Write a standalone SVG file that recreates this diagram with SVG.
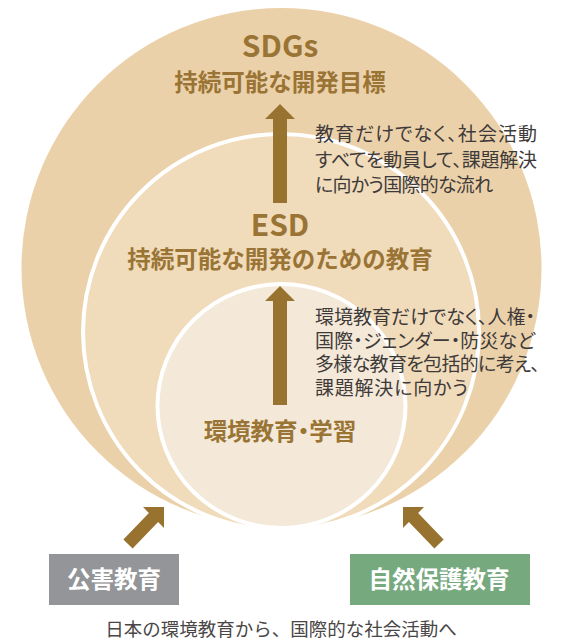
<svg xmlns="http://www.w3.org/2000/svg" width="572" height="642" viewBox="0 0 572 642">
<defs>
<style>
.title{font-family:"Noto Sans CJK JP","Noto Sans",sans-serif;font-weight:700;fill:#9a7434;text-anchor:middle}
.palt{font-feature-settings:"palt" 1}
.note{font-family:"Noto Sans CJK JP","Noto Sans",sans-serif;font-weight:400;fill:#3e3a39;font-size:19px;font-feature-settings:"palt" 1}
.box{font-family:"Noto Sans CJK JP","Noto Sans",sans-serif;font-weight:700;fill:#ffffff;font-size:23.5px;text-anchor:middle}
.cap{font-family:"Noto Sans CJK JP","Noto Sans",sans-serif;font-weight:400;fill:#4a4645;font-size:18.5px;text-anchor:middle}
.arrow{fill:#98722f}
</style>
</defs>
<rect width="572" height="642" fill="#ffffff"/>
<g id="sdgs">
<ellipse cx="281.5" cy="268" rx="260" ry="260" fill="#ebd1aa"/>
<text class="title" x="280" y="57" font-size="30">SDGs</text>
<text class="title" x="280" y="91" font-size="23.5">持続可能な開発目標</text>
</g>
<g id="esd">
<circle cx="281" cy="332" r="198" fill="#f0dbbb" stroke="#ffffff" stroke-width="4"/>
<text class="title" x="280" y="236" font-size="30">ESD</text>
<text class="title" x="280" y="268" font-size="23.5">持続可能な開発のための教育</text>
</g>
<g id="env">
<ellipse cx="281.5" cy="406" rx="124" ry="122" fill="#f4e9d8" stroke="#ffffff" stroke-width="4"/>
<text class="title palt" x="280" y="440" font-size="23.5">環境教育・学習</text>
</g>
<g id="note1">
<text class="note" x="315" y="141" textLength="222" lengthAdjust="spacing">教育だけでなく、社会活動</text>
<text class="note" x="315" y="166.5" textLength="222" lengthAdjust="spacing">すべてを動員して、課題解決</text>
<text class="note" x="315" y="192" textLength="178" lengthAdjust="spacing">に向かう国際的な流れ</text>
</g>
<g id="note2">
<text class="note" x="315" y="324" textLength="220" lengthAdjust="spacing">環境教育だけでなく、人権・</text>
<text class="note" x="315" y="347.5" textLength="220" lengthAdjust="spacing">国際・ジェンダー・防災など</text>
<text class="note" x="315" y="371" textLength="225" lengthAdjust="spacing">多様な教育を包括的に考え、</text>
<text class="note" x="315" y="394.5" textLength="153" lengthAdjust="spacing">課題解決に向かう</text>
</g>
<g id="pollution">
<rect x="49" y="554" width="130" height="51" fill="#939598"/>
<text class="box" x="114" y="588">公害教育</text>
</g>
<g id="nature">
<rect x="350" y="554" width="180" height="51" fill="#77a97f"/>
<text class="box" x="439" y="588">自然保護教育</text>
</g>
<g id="caption">
<text class="cap" x="281" y="636">日本の環境教育から、国際的な社会活動へ</text>
</g>
<g id="connectors">
<polygon class="arrow" points="280,104 295,119 287,119 287,203 273,203 273,119 265,119"/>
<polygon class="arrow" points="280,286 295,301 287,301 287,405 273,405 273,301 265,301"/>
<polygon class="arrow" points="164,507 164,528 158.1,522.1 132.6,548.6 123.4,539.4 148.9,512.9 143,507"/>
<polygon class="arrow" points="403,507 403,528 408.9,522.1 434.4,548.6 443.6,539.4 418.1,512.9 424,507"/>
</g>
</svg>
